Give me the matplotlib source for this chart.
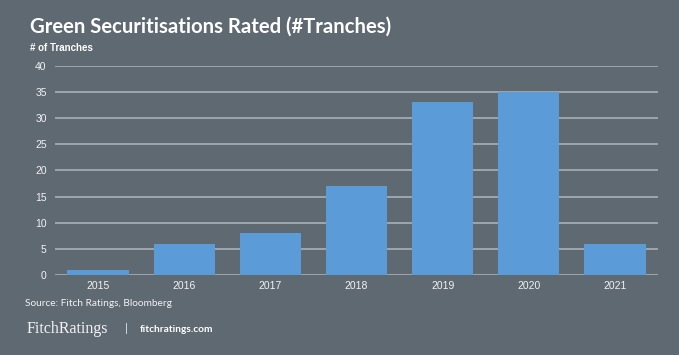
import matplotlib
matplotlib.use("Agg")
import matplotlib.pyplot as plt

years = ["2015", "2016", "2017", "2018", "2019", "2020", "2021"]
tranches = [1, 6, 8, 17, 33, 35, 6]
yticks = [0, 5, 10, 15, 20, 25, 30, 35, 40]

BG = "#5e6971"
BAR = "#5b9bd8"
GRID = "#a3abb0"
TXT = "#f2f2f2"

fig = plt.figure(figsize=(6.79, 3.55), dpi=100, facecolor=BG)
ax = fig.add_axes([55/679, 1-275/355, (658-55)/679, (275-65.7)/355])
ax.set_facecolor(BG)

ax.bar(range(len(years)), tranches, width=0.71, color=BAR, zorder=3)
ax.set_xlim(-0.5, len(years)-0.5)
ax.set_ylim(0, 40)
ax.set_yticks(yticks)
ax.set_xticks(range(len(years)))
ax.set_xticklabels(years)
ax.yaxis.grid(True, color=GRID, linewidth=1.3, zorder=0)
for s in ax.spines.values():
    s.set_visible(False)
ax.tick_params(axis="both", length=0, colors=TXT, labelsize=7.5, pad=4)
for lab in ax.get_xticklabels() + ax.get_yticklabels():
    lab.set_fontfamily("Liberation Sans")
ax.tick_params(axis="y", pad=6)

fig.text(30/679, 1-27/355, "Green Securitisations Rated (#Tranches)", color="white",
         fontsize=14.6, fontweight="bold", family="Lato", va="center", ha="left")
fig.text(30/679, 1-48/355, "# of Tranches", color="white", fontsize=7,
         fontweight="bold", family="Liberation Sans", va="center", ha="left")
fig.text(25/679, 1-304/355, "Source: Fitch Ratings, Bloomberg", color=TXT,
         fontsize=7.3, family="Lato", va="center", ha="left")
fig.text(27/679, 1-329/355, "FitchRatings", color=TXT, fontsize=11.5,
         family="Liberation Serif", va="center", ha="left")
fig.text(125/679, 1-329/355, "|", color=TXT, fontsize=8, family="Lato",
         va="center", ha="left")
fig.text(140/679, 1-329/355, "fitchratings.com", color="white", fontsize=7.3,
         fontweight="bold", family="Lato", va="center", ha="left")

fig.savefig("out.png", dpi=100, facecolor=BG)
